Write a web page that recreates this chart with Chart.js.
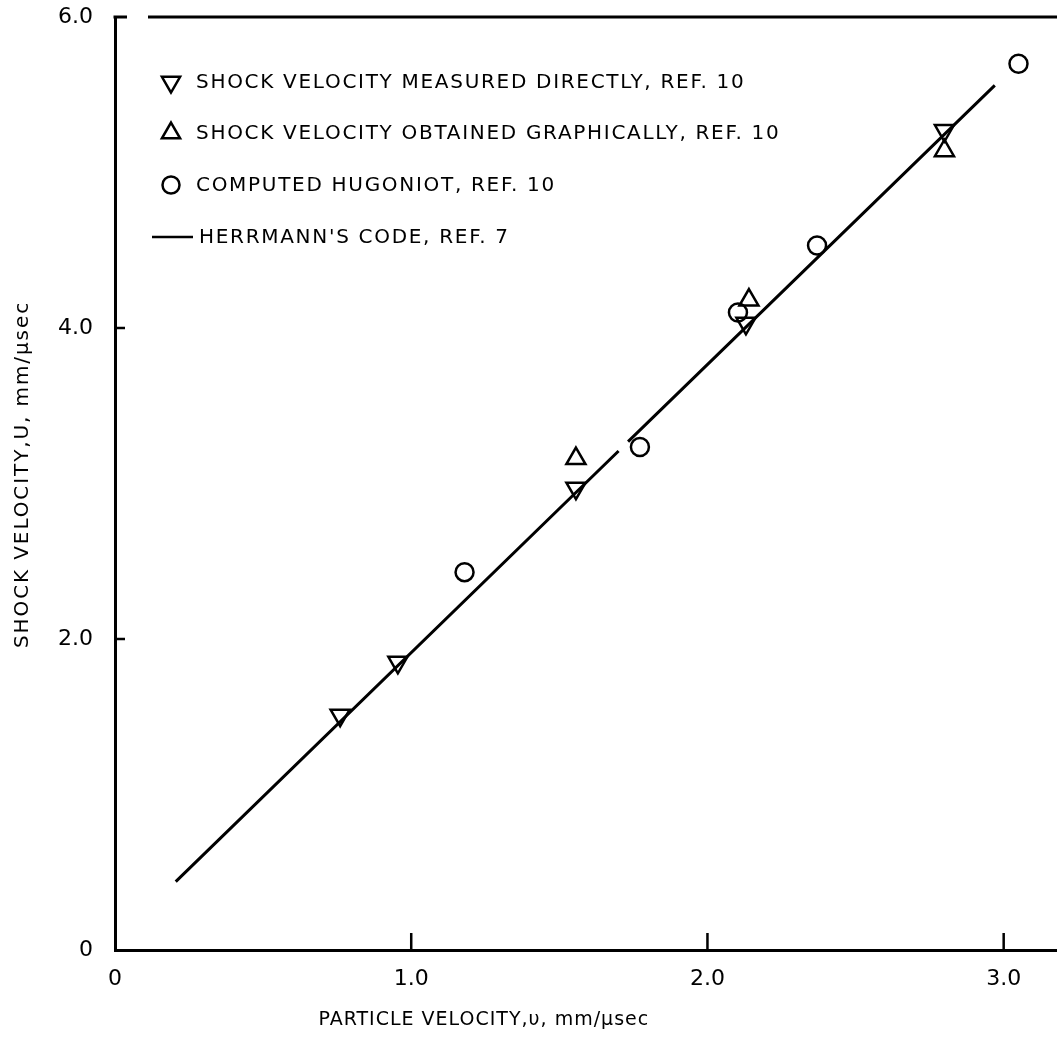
<!DOCTYPE html>
<html><head><meta charset="utf-8">
<script src="https://cdn.jsdelivr.net/npm/chart.js@4.4.1/dist/chart.umd.min.js"></script>
<style>html,body{margin:0;padding:0;background:#fff;overflow:hidden;}</style>
</head><body>
<canvas id="c" width="1057" height="1045"></canvas>
<script>
// ---- data ----
const xTickValues = [0, 1, 2, 3];
const xTickLabels = ['0', '1.0', '2.0', '3.0'];
const yTickValues = [0, 2, 4, 6];
const yTickLabels = ['0', '2.0', '4.0', '6.0'];
const xTitle = 'PARTICLE VELOCITY,\u03c5, mm/\u03bcsec';
const yTitle = 'SHOCK VELOCITY,U, mm/\u03bcsec';
const seriesLabels = [
  'SHOCK VELOCITY MEASURED DIRECTLY, REF. 10',
  'SHOCK VELOCITY OBTAINED GRAPHICALLY, REF. 10',
  'COMPUTED HUGONIOT, REF. 10',
  "HERRMANN'S CODE, REF. 7"
];
const measuredU  = [0.76, 0.955, 1.556, 2.13, 2.80];
const measuredUs = [1.51, 1.85, 2.97, 4.03, 5.27];
const graphicalU  = [1.556, 2.14, 2.80];
const graphicalUs = [3.16, 4.18, 5.14];
const computedU  = [1.18, 1.772, 2.103, 2.37, 3.05];
const computedUs = [2.43, 3.235, 4.10, 4.53, 5.70];
const codeU  = [0.205, 1.700, 1.715, 1.732, 2.97];
const codeUs = [0.44, 3.209, null, 3.269, 5.56];

const pts = (xs, ys) => xs.map((x, i) => ({x: x, y: ys[i]}));
const FONT = 'DejaVu Sans';

function spaced(ctx, px) { try { ctx.letterSpacing = px + 'px'; } catch (e) {} }

const decor = {
  id: 'decor',
  afterDraw(chart) {
    const ctx = chart.ctx, ca = chart.chartArea;
    const xs = chart.scales.x, ys = chart.scales.y;
    ctx.save();
    ctx.strokeStyle = '#000';
    ctx.lineWidth = 3;
    ctx.lineCap = 'butt';
    // top frame line (with small gap as in original)
    ctx.beginPath();
    ctx.moveTo(ca.left - 1.5, ca.top); ctx.lineTo(ca.left + 12, ca.top);
    ctx.moveTo(ca.left + 33, ca.top); ctx.lineTo(ca.right, ca.top);
    ctx.stroke();
    // inward ticks
    ctx.lineWidth = 2.5;
    ctx.beginPath();
    xTickValues.forEach(v => { if (v === 0) return; const p = xs.getPixelForValue(v); ctx.moveTo(p, ca.bottom); ctx.lineTo(p, ca.bottom - 17); });
    yTickValues.forEach(v => { if (v === 0 || v === 6) return; const p = ys.getPixelForValue(v); ctx.moveTo(ca.left, p); ctx.lineTo(ca.left + 10, p); });
    ctx.stroke();
    // legend
    const rowY = [82, 133, 185, 237];
    chart.data.datasets.forEach((ds, i) => {
      const y = rowY[i];
      ctx.strokeStyle = '#000';
      if (ds.showLine) {
        ctx.lineWidth = 2.5;
        ctx.beginPath(); ctx.moveTo(152, y); ctx.lineTo(193, y); ctx.stroke();
      } else {
        ctx.fillStyle = 'rgba(0,0,0,0)';
        ctx.lineWidth = ds.borderWidth;
        Chart.helpers.drawPoint(ctx, {
          pointStyle: ds.pointStyle, rotation: ds.rotation || 0,
          radius: ds.pointRadius - 0.5, borderWidth: ds.borderWidth
        }, 171, y);
      }
      ctx.fillStyle = '#000';
      ctx.font = '20px "' + FONT + '"';
      ctx.textBaseline = 'middle';
      ctx.textAlign = 'left';
      spaced(ctx, 1.7);
      ctx.fillText(ds.label, ds.showLine ? 199 : 196, y + 1);
    });
    // x axis title
    ctx.fillStyle = '#000';
    ctx.font = '19px "' + FONT + '"';
    spaced(ctx, 1);
    ctx.textAlign = 'center';
    ctx.textBaseline = 'middle';
    ctx.fillText(xTitle, xs.getPixelForValue(1.245), 1020);
    // y axis title
    ctx.translate(23, (ca.top + ca.bottom) / 2 - 9);
    ctx.rotate(-Math.PI / 2);
    ctx.font = '20px "' + FONT + '"';
    spaced(ctx, 1.9);
    ctx.fillText(yTitle, 0, 0);
    ctx.restore();
  }
};

const markerCommon = {showLine: false, borderColor: '#000', backgroundColor: 'rgba(0,0,0,0)', borderWidth: 2.5, pointHoverRadius: 0};

new Chart(document.getElementById('c'), {
  type: 'scatter',
  data: {
    datasets: [
      Object.assign({label: seriesLabels[0], data: pts(measuredU, measuredUs), pointStyle: 'triangle', rotation: 180, pointRadius: 11}, markerCommon),
      Object.assign({label: seriesLabels[1], data: pts(graphicalU, graphicalUs), pointStyle: 'triangle', rotation: 0, pointRadius: 11}, markerCommon),
      Object.assign({label: seriesLabels[2], data: pts(computedU, computedUs), pointStyle: 'circle', pointRadius: 9}, markerCommon),
      {label: seriesLabels[3], data: pts(codeU, codeUs), showLine: true, spanGaps: false, borderColor: '#000', borderWidth: 3, pointRadius: 0, pointHoverRadius: 0, fill: false}
    ]
  },
  options: {
    responsive: false,
    animation: false,
    events: [],
    layout: {autoPadding: false, padding: {top: 17, right: 0, left: 0, bottom: 0}},
    plugins: {legend: {display: false}, tooltip: {enabled: false}, title: {display: false}},
    scales: {
      x: {
        type: 'linear', min: 0, max: 3.18,
        afterBuildTicks: s => { s.ticks = xTickValues.map(v => ({value: v})); },
        afterFit: s => { s.height = 95; s.paddingLeft = 0; s.paddingRight = 0; },
        grid: {display: false},
        border: {display: true, color: '#000', width: 3},
        ticks: {
          color: '#000', font: {family: FONT, size: 22}, padding: 8, maxRotation: 0, autoSkip: false,
          callback: (v) => xTickLabels[xTickValues.indexOf(v)]
        }
      },
      y: {
        type: 'linear', min: 0, max: 6,
        afterBuildTicks: s => { s.ticks = yTickValues.map(v => ({value: v})); },
        afterFit: s => { s.width = 115; s.paddingTop = 0; s.paddingBottom = 0; },
        grid: {display: false},
        border: {display: true, color: '#000', width: 3},
        ticks: {
          color: '#000', font: {family: FONT, size: 22}, padding: 14, autoSkip: false,
          callback: (v) => yTickLabels[yTickValues.indexOf(v)]
        }
      }
    }
  },
  plugins: [decor]
});
</script>
</body></html>
